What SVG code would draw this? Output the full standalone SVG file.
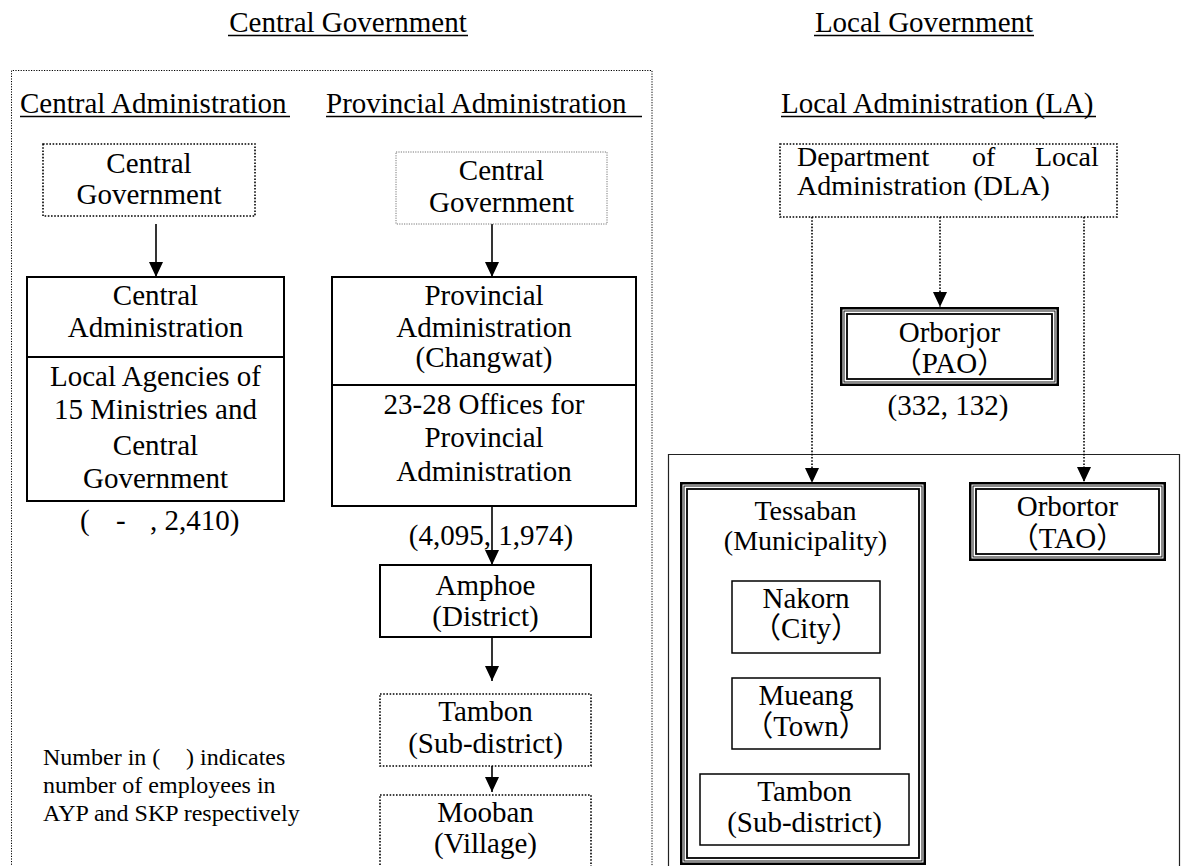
<svg xmlns="http://www.w3.org/2000/svg" width="1181" height="866" viewBox="0 0 1181 866">
  <style>
    text { font-family: "Liberation Serif", "Times New Roman", "Noto Sans CJK JP", serif; font-size: 29px; fill: #000; }
    .mid { text-anchor: middle; }
    .note { font-size: 24px; }
    .tight { font-size: 28px; }
    .solid { fill: #fff; stroke: #000; stroke-width: 2; }
    .thin { fill: #fff; stroke: #000; stroke-width: 1.5; }
    .dotbox { fill: #fff; stroke: #000; stroke-width: 1.6; stroke-dasharray: 1.6 1.6; }
    .dotgrey { fill: #fff; stroke: #777; stroke-width: 1; stroke-dasharray: 1.2 1.2; }
    .frame { fill: none; stroke: #000; stroke-width: 1; stroke-dasharray: 1.2 1.4; }
    .panel { fill: none; stroke: #222; stroke-width: 1.2; }
    .tri-o { fill: #fff; stroke: #000; stroke-width: 2.5; }
    .tri-m { fill: none; stroke: #000; stroke-width: 0.9; }
    .tri-i { fill: none; stroke: #000; stroke-width: 1.8; }
    .ul { stroke: #000; stroke-width: 1.6; }
    .link { fill: none; stroke: #000; stroke-width: 1.6; marker-end: url(#arrow); }
    .dlink { fill: none; stroke: #000; stroke-width: 1.6; stroke-dasharray: 1.6 1.6; marker-end: url(#arrow); }
  </style>
  <defs>
    <marker id="arrow" viewBox="0 0 15 14" markerWidth="15" markerHeight="14" refX="15" refY="7" orient="auto" markerUnits="userSpaceOnUse">
      <path d="M0,0 L15,7 L0,14 Z" fill="#000"/>
    </marker>
  </defs>

  <rect width="1181" height="866" fill="#fff"/>

  <!-- section headings -->
  <g id="headings">
    <text class="mid" x="348" y="32">Central Government</text>
    <line class="ul" x1="228" y1="35.5" x2="468" y2="35.5"/>
    <text class="mid" x="924" y="32">Local Government</text>
    <line class="ul" x1="814" y1="35.5" x2="1034" y2="35.5"/>
    <text x="20" y="113">Central Administration</text>
    <line class="ul" x1="20" y1="116.5" x2="290" y2="116.5"/>
    <text x="326" y="113">Provincial Administration</text>
    <line class="ul" x1="326" y1="116.5" x2="642" y2="116.5"/>
    <text x="781" y="113">Local Administration (LA)</text>
    <line class="ul" x1="781" y1="116.5" x2="1096" y2="116.5"/>
  </g>

  <!-- frames -->
  <g id="central-frame">
    <path class="frame" d="M11.5,870 V70.5 H652 V870"/>
  </g>
  <g id="local-panel">
    <path class="panel" d="M668.5,870 V454.5 H1179.5 V870"/>
  </g>

  <!-- connectors -->
  <g id="connectors">
    <line class="link" x1="156" y1="224" x2="156" y2="277"/>
    <line class="link" x1="492" y1="224" x2="492" y2="277"/>
    <line class="link" x1="492" y1="500" x2="492" y2="565"/>
    <line class="link" x1="492" y1="637" x2="492" y2="681"/>
    <line class="link" x1="492" y1="766" x2="492" y2="792"/>
    <line class="dlink" x1="812" y1="217" x2="812" y2="483"/>
    <line class="dlink" x1="940" y1="217" x2="940" y2="307"/>
    <line class="dlink" x1="1084" y1="217" x2="1084" y2="482"/>
  </g>

  <!-- central administration column -->
  <g id="ca-central-gov">
    <rect class="dotbox" x="43" y="144" width="212" height="72"/>
    <text class="mid" x="149" y="173">Central</text>
    <text class="mid" x="149" y="204">Government</text>
  </g>
  <g id="central-admin">
    <rect class="solid" x="27" y="277" width="257" height="224"/>
    <line stroke="#000" stroke-width="2" x1="27" y1="357" x2="284" y2="357"/>
    <text class="mid" x="155.5" y="305">Central</text>
    <text class="mid" x="155.5" y="337">Administration</text>
    <text class="mid" x="155.5" y="386">Local Agencies of</text>
    <text class="mid" x="155.5" y="419">15 Ministries and</text>
    <text class="mid" x="155.5" y="455">Central</text>
    <text class="mid" x="155.5" y="488">Government</text>
  </g>
  <g id="central-admin-count">
    <text x="80" y="530">(<tspan x="116">-</tspan><tspan x="150">, 2,410)</tspan></text>
  </g>
  <g id="legend">
    <text class="note" x="43" y="765">Number in (<tspan x="186">) indicates</tspan></text>
    <text class="note" x="43" y="793">number of employees in</text>
    <text class="note" x="43" y="821">AYP and SKP respectively</text>
  </g>

  <!-- provincial administration column -->
  <g id="pa-central-gov">
    <rect class="dotgrey" x="396" y="152" width="211" height="72"/>
    <text class="mid" x="501.5" y="180">Central</text>
    <text class="mid" x="501.5" y="212">Government</text>
  </g>
  <g id="provincial-admin">
    <rect class="solid" x="332" y="277" width="304" height="229"/>
    <line stroke="#000" stroke-width="2" x1="332" y1="385" x2="636" y2="385"/>
    <text class="mid" x="484" y="305">Provincial</text>
    <text class="mid" x="484" y="337">Administration</text>
    <text class="mid" x="484" y="367">(Changwat)</text>
    <text class="mid" x="484" y="414">23-28 Offices for</text>
    <text class="mid" x="484" y="447">Provincial</text>
    <text class="mid" x="484" y="481">Administration</text>
  </g>
  <g id="provincial-count">
    <text class="mid" x="491" y="545">(4,095, 1,974)</text>
  </g>
  <g id="amphoe">
    <rect class="solid" x="380" y="565" width="211" height="72"/>
    <text class="mid" x="485.5" y="595">Amphoe</text>
    <text class="mid" x="485.5" y="626">(District)</text>
  </g>
  <g id="tambon-pa">
    <rect class="dotbox" x="380" y="694" width="211" height="72"/>
    <text class="mid" x="485.5" y="721">Tambon</text>
    <text class="mid" x="485.5" y="753">(Sub-district)</text>
  </g>
  <g id="mooban">
    <rect class="dotbox" x="380" y="795" width="211" height="80"/>
    <text class="mid" x="485.5" y="822">Mooban</text>
    <text class="mid" x="485.5" y="853">(Village)</text>
  </g>

  <!-- local administration -->
  <g id="dla">
    <rect class="dotbox" x="780" y="144" width="337" height="73" stroke-width="2"/>
    <text class="tight" x="797" y="166">Department<tspan x="972">of</tspan><tspan x="1035">Local</tspan></text>
    <text class="tight" x="797" y="195">Administration (DLA)</text>
  </g>
  <g id="orborjor">
    <rect class="tri-o" x="841.25" y="308.25" width="216.5" height="76.5"/>
    <rect class="tri-m" x="844" y="311" width="211" height="71"/>
    <rect class="tri-i" x="847" y="314" width="205" height="65"/>
    <text class="mid" x="949.5" y="342">Orborjor</text>
    <text class="mid" x="949.5" y="373">（PAO）</text>
  </g>
  <g id="orborjor-count">
    <text class="mid" x="948" y="415">(332, 132)</text>
  </g>
  <g id="tessaban">
    <rect class="tri-o" x="681.25" y="483.25" width="243.5" height="380.5"/>
    <rect class="tri-m" x="684" y="486" width="238" height="375"/>
    <rect class="tri-i" x="687" y="489" width="232" height="369"/>
    <text class="mid tight" x="805.5" y="520">Tessaban</text>
    <text class="mid tight" x="805.5" y="550">(Municipality)</text>
  </g>
  <g id="nakorn">
    <rect class="thin" x="732" y="581" width="148" height="72"/>
    <text class="mid" x="806" y="608">Nakorn</text>
    <text class="mid" x="806" y="638">（City）</text>
  </g>
  <g id="mueang">
    <rect class="thin" x="732" y="678" width="148" height="71"/>
    <text class="mid" x="806" y="705">Mueang</text>
    <text class="mid" x="806" y="736">（Town）</text>
  </g>
  <g id="tambon-la">
    <rect class="thin" x="700" y="774" width="209" height="71"/>
    <text class="mid" x="804.5" y="801">Tambon</text>
    <text class="mid" x="804.5" y="832">(Sub-district)</text>
  </g>
  <g id="orbortor">
    <rect class="tri-o" x="970.25" y="483.25" width="194.5" height="76.5"/>
    <rect class="tri-m" x="973" y="486" width="189" height="71"/>
    <rect class="tri-i" x="976" y="489" width="183" height="65"/>
    <text class="mid" x="1067.5" y="516">Orbortor</text>
    <text class="mid" x="1067.5" y="548">（TAO）</text>
  </g>
</svg>
